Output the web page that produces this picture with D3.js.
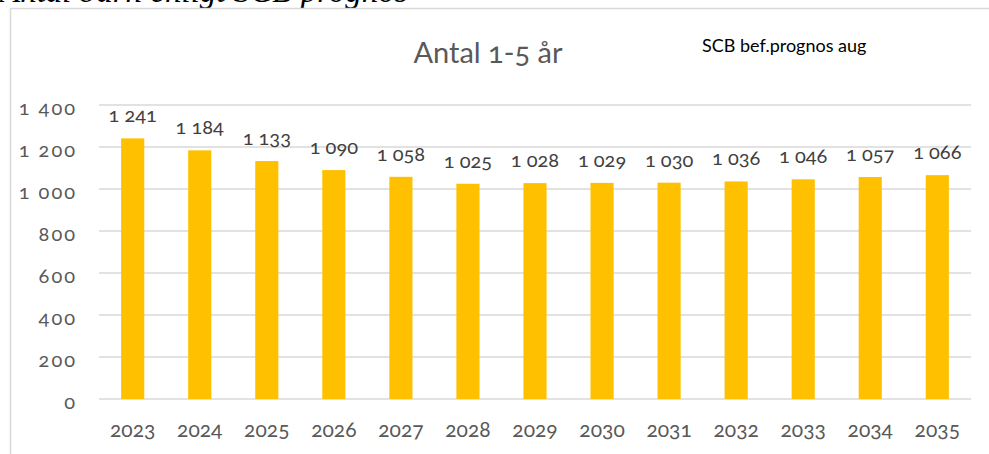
<!DOCTYPE html>
<html>
<head>
<meta charset="utf-8">
<script src="https://cdn.jsdelivr.net/npm/d3@7"></script>
<style>
  body { margin: 0; background: #fff; }
  svg text { font-family: "Lato", "Noto Sans", sans-serif; font-variant-numeric: oldstyle-nums; }
</style>
</head>
<body>
<div id="chart"></div>
<script>
// data
var years = ["2023", "2024", "2025", "2026", "2027", "2028", "2029", "2030", "2031", "2032", "2033", "2034", "2035"];
var antal = [1241, 1184, 1133, 1090, 1058, 1025, 1028, 1029, 1030, 1036, 1046, 1057, 1066];
var yTicks = [0, 200, 400, 600, 800, 1000, 1200, 1400];

var width = 989,
	height = 454;

var svg = d3.select("#chart").append("svg")
	.attr("width", width)
	.attr("height", height);

// heading above the chart box, cut off at the top like in the source
svg.append("text")
	.attr("x", 0)
	.attr("y", 2)
	.style("font-family", "'Liberation Serif', serif")
	.style("font-style", "italic")
	.style("font-size", "33px")
	.style("fill", "#000")
	.text("Antal barn enligt SCB prognos");

// chart box border (top + left)
svg.append("path")
	.attr("d", "M10.5," + height + "V8.5H" + width)
	.attr("fill", "none")
	.attr("stroke", "#d9d9d9")
	.attr("stroke-width", 1.5);

var margin = { left: 99, right: 971, top: 105, bottom: 399 };

var x = d3.scaleBand()
	.domain(years)
	.range([margin.left, margin.right])
	.paddingInner(0.655)
	.paddingOuter(0.33);

var y = d3.scaleLinear()
	.domain([0, 1400])
	.range([margin.bottom, margin.top]);

var fmt = function(v) {
	return d3.format(",")(v).replace(/,/g, "\u00a0");
};

// gridlines
svg.append("g").selectAll("line")
	.data(yTicks)
	.enter().append("line")
		.attr("x1", margin.left)
		.attr("x2", margin.right)
		.attr("y1", function(d) { return y(d); })
		.attr("y2", function(d) { return y(d); })
		.attr("stroke", "#d9d9d9")
		.attr("stroke-width", 1.5);

// y axis labels
var yAxis = d3.axisLeft(y).tickValues(yTicks).tickSize(0).tickPadding(0).tickFormat(fmt);
var gy = svg.append("g")
	.attr("transform", "translate(77,0)")
	.call(yAxis);
gy.select(".domain").remove();
gy.selectAll("text")
	.style("font-size", "20px")
	.style("letter-spacing", "2px")
	.style("fill", "#595959")
	.attr("dy", "0.45em");

// x axis labels
var xAxis = d3.axisBottom(x).tickSize(0).tickPadding(0);
var gx = svg.append("g")
	.attr("transform", "translate(0,422)")
	.call(xAxis);
gx.select(".domain").remove();
gx.selectAll("text")
	.style("font-size", "21px")
	.style("fill", "#595959")
	.attr("dy", "0.72em");

// bars
svg.append("g").selectAll("rect")
	.data(antal)
	.enter().append("rect")
		.attr("x", function(d, i) { return x(years[i]); })
		.attr("width", x.bandwidth())
		.attr("y", function(d) { return y(d); })
		.attr("height", function(d) { return y(0) - y(d); })
		.style("fill", "#FFC000");

// value labels
svg.append("g").selectAll("text")
	.data(antal)
	.enter().append("text")
		.attr("x", function(d, i) { return x(years[i]) + x.bandwidth() / 2; })
		.attr("y", function(d) { return y(d) - 16; })
		.attr("text-anchor", "middle")
		.style("font-size", "20px")
		.style("fill", "#404040")
		.text(fmt);

// titles
svg.append("text")
	.attr("x", 488)
	.attr("y", 63)
	.attr("text-anchor", "middle")
	.style("font-size", "29px")
	.style("fill", "#595959")
	.text("Antal 1-5 år");

svg.append("text")
	.attr("x", 702)
	.attr("y", 52)
	.style("font-size", "18px")
	.style("fill", "#000")
	.text("SCB bef.prognos aug");
</script>
</body>
</html>
